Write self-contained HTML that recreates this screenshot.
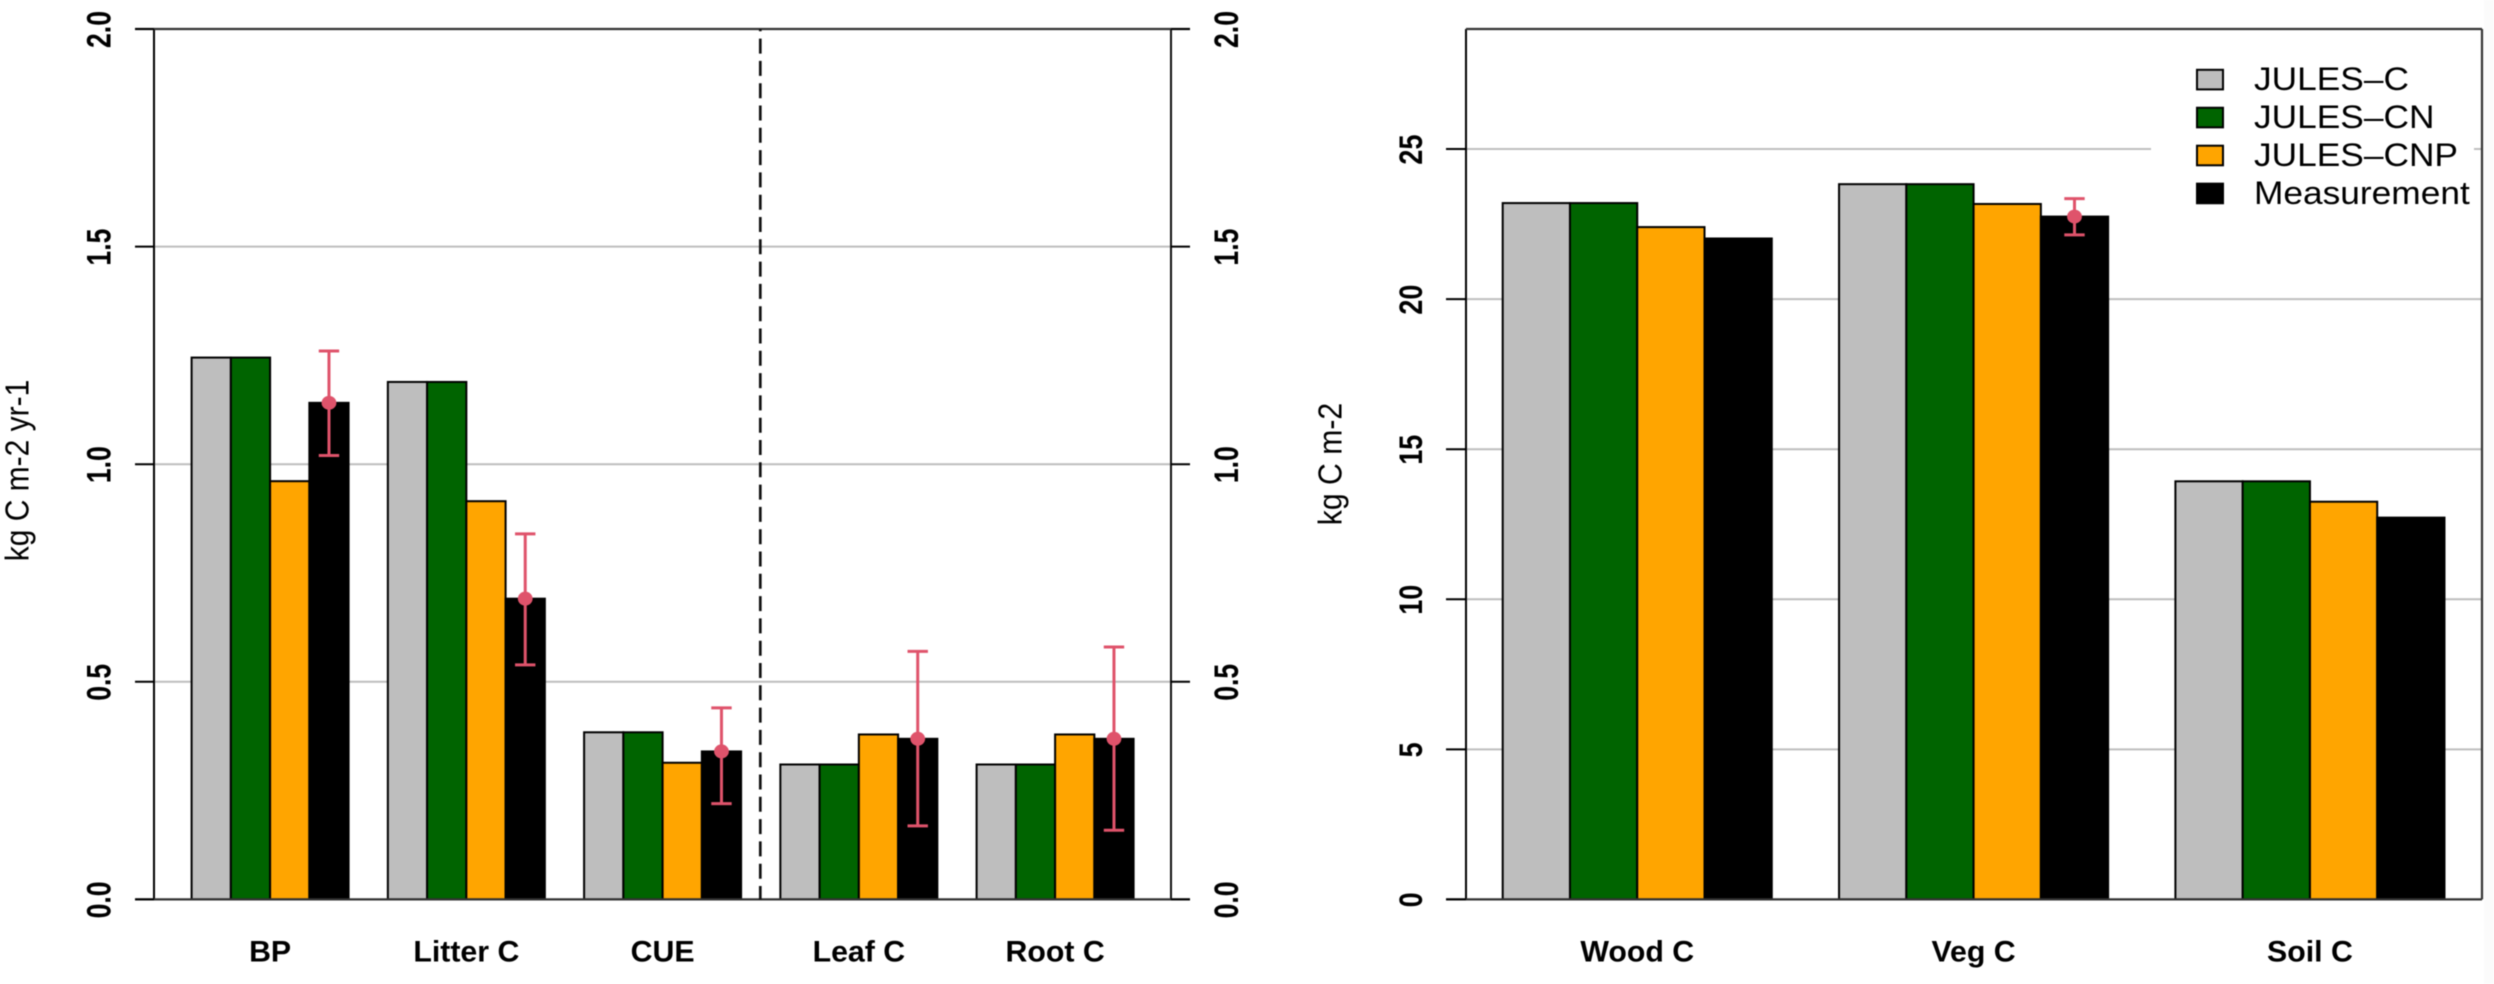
<!DOCTYPE html>
<html lang="en">
<head>
<meta charset="utf-8">
<title>JULES carbon comparison bar charts</title>
<style>
  html, body { margin: 0; padding: 0; background: #ffffff; }
  body { width: 2494px; height: 984px; overflow: hidden; }
  svg { display: block; font-family: "Liberation Sans", Arial, sans-serif; filter: blur(0.45px); }
</style>
</head>
<body>
<svg id="figure" width="2494" height="984" viewBox="0 0 2494 984" xmlns="http://www.w3.org/2000/svg">
  <rect x="0" y="0" width="2494" height="984" fill="#ffffff"/>
  <rect x="2484" y="0" width="10" height="984" fill="#fbfbfb"/>
  <g id="left-chart"></g>
  <g id="right-chart"></g>
</svg>
<script>
// ---- Left panel data (kg C m-2 yr-1) ----
const leftCategories = ["BP", "Litter C", "CUE", "Leaf C", "Root C"];
const leftJulesC     = [1.245, 1.189, 0.384, 0.31, 0.31];
const leftJulesCN    = [1.245, 1.189, 0.384, 0.31, 0.31];
const leftJulesCNP   = [0.961, 0.915, 0.314, 0.379, 0.379];
const leftMeasured   = [1.141, 0.691, 0.34, 0.369, 0.369];
const leftErrLow     = [1.02, 0.539, 0.22, 0.169, 0.159];
const leftErrHigh    = [1.26, 0.84, 0.44, 0.57, 0.58];
const leftTicks      = [0, 0.5, 1, 1.5, 2];
const leftTickLabels = ["0.0", "0.5", "1.0", "1.5", "2.0"];

// ---- Right panel data (kg C m-2) ----
const rightCategories = ["Wood C", "Veg C", "Soil C"];
const rightJulesC     = [23.2, 23.83, 13.93];
const rightJulesCN    = [23.2, 23.83, 13.93];
const rightJulesCNP   = [22.4, 23.17, 13.25];
const rightMeasured   = [22.02, 22.75, 12.72];
const rightErrLow     = [null, 22.14, null];
const rightErrHigh    = [null, 23.35, null];
const rightTicks      = [0, 5, 10, 15, 20, 25];
const rightTickLabels = ["0", "5", "10", "15", "20", "25"];

// ---- Legend ----
const seriesNames = ["JULES\u2013C", "JULES\u2013CN", "JULES\u2013CNP", "Measurement"];

// ---- Styles ----
const seriesFills = ["#bebebe", "#006400", "#ffa500", "#000000"];
const errColor = "#df536b";
const NS = "http://www.w3.org/2000/svg";

// ---- Axis functions ----
const Y0 = 899.4, YTOP = 29;
function yLeft(v)  { return Y0 - (Y0 - YTOP) * v / 2; }
function yRight(v) { return Y0 - (Y0 - YTOP) * v / 29; }
const LEFT_BAR = 39.25, RIGHT_BAR = 67.27;
function xLeft(u)  { return 191.6 + LEFT_BAR * u; }
function xRight(u) { return 1502.7 + RIGHT_BAR * u; }

function addLine(parent, name, x1, y1, x2, y2, stroke, width, dash, offset) {
  const l = document.createElementNS(NS, "line");
  
  
  l.setAttribute("x1", x1);
  l.setAttribute("y1", y1);
  l.setAttribute("x2", x2);
  l.setAttribute("y2", y2);
  l.setAttribute("stroke", stroke);
  l.setAttribute("stroke-width", width);
  if (dash) l.setAttribute("stroke-dasharray", dash);
  if (offset) l.setAttribute("stroke-dashoffset", offset);
  parent.appendChild(l);
  return l;
}

function addRect(parent, name, x, y, w, h, fill, stroke, sw) {
  const r = document.createElementNS(NS, "rect");
  
  
  r.setAttribute("x", x);
  r.setAttribute("y", y);
  r.setAttribute("width", w);
  r.setAttribute("height", h);
  r.setAttribute("fill", fill);
  if (stroke) {
    r.setAttribute("stroke", stroke);
    r.setAttribute("stroke-width", sw);
  }
  parent.appendChild(r);
  return r;
}

// transform: placed at (x,y), rotated, then scaled along / across the text direction
function addText(parent, name, str, x, y, rot, size, weight, anchor, sx, sy) {
  const t = document.createElementNS(NS, "text");
  
  
  t.setAttribute("transform", "translate(" + x + " " + y + ") rotate(" + rot + ") scale(" + sx + " " + sy + ")");
  t.setAttribute("font-size", size);
  t.setAttribute("font-weight", weight);
  t.setAttribute("text-anchor", anchor);
  t.setAttribute("fill", "#000000");
  t.textContent = str;
  parent.appendChild(t);
  return t;
}

function drawBars(parent, prefix, categories, series, xs, ys, barW) {
  categories.forEach(function (cat, c) {
    series.forEach(function (values, s) {
      const u = c * 5 + s;
      const top = ys(values[c]);
      const slug = cat.toLowerCase().replace(/ /g, "-");
      addRect(parent, prefix + "-bar-" + slug + "-" + s, xs(u), top, barW, Y0 - top, seriesFills[s], "#000000", 2);
    });
  });
}

function drawErrors(parent, prefix, categories, measured, low, high, xs, ys, barW) {
  categories.forEach(function (cat, c) {
    if (low[c] === null || high[c] === null) return;
    const cx = xs(c * 5 + 3) + barW / 2;
    const slug = cat.toLowerCase().replace(/ /g, "-");
    addLine(parent, prefix + "-error-stem-" + slug, cx, ys(low[c]), cx, ys(high[c]), errColor, 3);
    addLine(parent, prefix + "-error-cap-low-" + slug, cx - 10.2, ys(low[c]), cx + 10.2, ys(low[c]), errColor, 3);
    addLine(parent, prefix + "-error-cap-high-" + slug, cx - 10.2, ys(high[c]), cx + 10.2, ys(high[c]), errColor, 3);
    const dot = document.createElementNS(NS, "ellipse");
    
    
    dot.setAttribute("cx", cx);
    dot.setAttribute("cy", ys(measured[c]));
    dot.setAttribute("rx", 7.4);
    dot.setAttribute("ry", 7);
    dot.setAttribute("fill", errColor);
    parent.appendChild(dot);
  });
}

// ---- Left chart ----
(function () {
  const g = document.getElementById("left-chart");
  const AX_L = 154, AX_R = 1171;

  leftTicks.forEach(function (v, i) {
    if (v > 0 && v < 2) {
      addLine(g, "left-gridline-" + leftTickLabels[i], AX_L, yLeft(v), AX_R, yLeft(v), "#bebebe", 2);
    }
  });

  drawBars(g, "left", leftCategories, [leftJulesC, leftJulesCN, leftJulesCNP, leftMeasured], xLeft, yLeft, LEFT_BAR);

  addLine(g, "left-y-axis", AX_L, YTOP, AX_L, Y0, "#000000", 2);
  addLine(g, "right-side-y-axis", AX_R, YTOP, AX_R, Y0, "#111111", 2);
  addLine(g, "left-top-border", 135, YTOP, 1190, YTOP, "#333333", 2.2);
  addLine(g, "left-x-baseline", 135, Y0, 1190, Y0, "#333333", 2.2);

  leftTicks.forEach(function (v, i) {
    const lab = leftTickLabels[i];
    addLine(g, "left-y-tick-" + lab, 135, yLeft(v), AX_L, yLeft(v), "#000000", 2);
    addLine(g, "right-side-y-tick-" + lab, AX_R, yLeft(v), 1190, yLeft(v), "#000000", 2);
    addText(g, "left-y-tick-label-" + lab, lab, 110.5, yLeft(v) + 0.5, -90, 26.6, "bold", "middle", 1, 1.3);
    addText(g, "right-side-y-tick-label-" + lab, lab, 1238, yLeft(v) + 0.5, -90, 26.6, "bold", "middle", 1, 1.3);
  });

  addLine(g, "group-divider-dashed-line", 760.3, YTOP, 760.3, Y0, "#111111", 2.7, "15 7.3", "12.7");

  drawErrors(g, "left", leftCategories, leftMeasured, leftErrLow, leftErrHigh, xLeft, yLeft, LEFT_BAR);

  leftCategories.forEach(function (cat, c) {
    const slug = cat.toLowerCase().replace(/ /g, "-");
    addText(g, "left-x-label-" + slug, cat, xLeft(c * 5 + 2), 961.7, 0, 30.3, "bold", "middle", 1, 0.97);
  });

  addText(g, "left-y-axis-title", "kg C m-2 yr-1", 28.5, 470.5, -90, 30, "normal", "middle", 1, 1.1);
})();

// ---- Right chart ----
(function () {
  const g = document.getElementById("right-chart");
  const AX_L = 1466, AX_R = 2482;

  rightTicks.forEach(function (v, i) {
    if (v > 0) {
      addLine(g, "right-gridline-" + rightTickLabels[i], AX_L, yRight(v), AX_R, yRight(v), "#bebebe", 2);
    }
  });

  drawBars(g, "right", rightCategories, [rightJulesC, rightJulesCN, rightJulesCNP, rightMeasured], xRight, yRight, RIGHT_BAR);

  addLine(g, "right-chart-y-axis", AX_L, YTOP, AX_L, Y0, "#000000", 2);
  addLine(g, "right-chart-right-border", AX_R, YTOP, AX_R, Y0, "#333333", 2.2);
  addLine(g, "right-chart-top-border", AX_L, YTOP, AX_R, YTOP, "#333333", 2.2);
  addLine(g, "right-chart-x-baseline", 1446, Y0, AX_R, Y0, "#333333", 2.2);

  rightTicks.forEach(function (v, i) {
    const lab = rightTickLabels[i];
    addLine(g, "right-chart-y-tick-" + lab, 1446, yRight(v), AX_L, yRight(v), "#000000", 2);
    addText(g, "right-chart-y-tick-label-" + lab, lab, 1422, yRight(v) + 0.5, -90, 27, "bold", "middle", 1, 1.2);
  });

  drawErrors(g, "right", rightCategories, rightMeasured, rightErrLow, rightErrHigh, xRight, yRight, RIGHT_BAR);

  rightCategories.forEach(function (cat, c) {
    const slug = cat.toLowerCase().replace(/ /g, "-");
    addText(g, "right-x-label-" + slug, cat, xRight(c * 5 + 2), 961.7, 0, 30.3, "bold", "middle", 1, 0.97);
  });

  addText(g, "right-y-axis-title", "kg C m-2", 1341.5, 464, -90, 30.2, "normal", "middle", 1, 1.1);

  // Legend
  const legend = document.createElementNS(NS, "g");
  
  
  g.appendChild(legend);
  addRect(legend, "legend-background", 2151, 50, 323, 170, "#ffffff");
  seriesNames.forEach(function (name, i) {
    const slug = name.toLowerCase().replace(/\u2013/g, "-");
    const top = 69.8 + i * 37.95;
    addRect(legend, "legend-swatch-" + slug, 2197, top, 26, 19.6, seriesFills[i], "#000000", 2);
    addText(legend, "legend-label-" + slug, name, 2254, top + 20.4, 0, 35.3, "normal", "start", 1, 0.92);
  });
})();
</script>
</body>
</html>
